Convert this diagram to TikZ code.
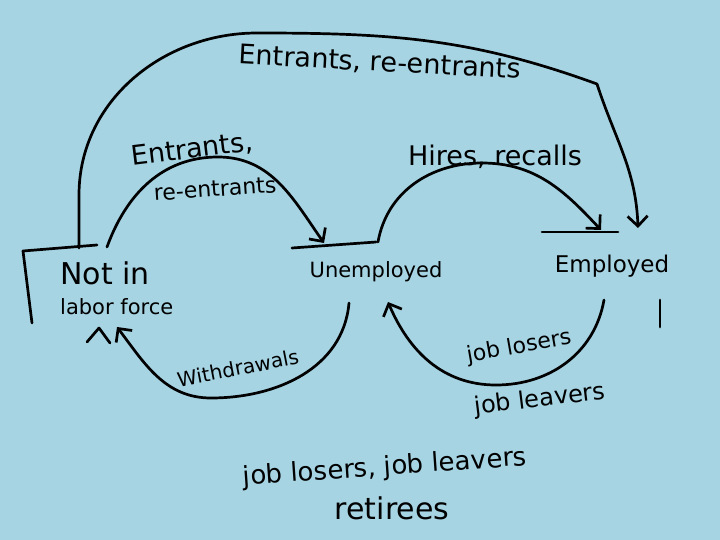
\documentclass[tikz,border=0pt]{standalone}
\usepackage{fontspec}
\setmainfont{DejaVu Sans}
\usetikzlibrary{arrows.meta}
\definecolor{board}{RGB}{166,212,227}
\newcommand{\sz}[1]{\fontsize{#1}{#1}\selectfont}

\begin{document}
\begin{tikzpicture}[x=1pt,y=1pt,
  pen/.style={line width=2.7pt, line cap=round, line join=round},
  flow/.style={pen, -{Straight Barb[length=10pt,width=20pt]}},
  lbl/.style={inner sep=0pt}]
\fill[board] (0,0) rectangle (720,-540);
\useasboundingbox (0,0) rectangle (720,-540);
% states
\node[lbl, anchor=north west, align=left, font=\fontsize{21}{30}\selectfont] (notin) at (60,-262) {{\sz{30}Not in}\\labor force};
\node[lbl, font=\sz{21}] (unemp) at (376,-272) {Unemployed};
\node[lbl, font=\sz{23}] (emp) at (612,-266) {Employed};
% ledges
\draw[pen] ([shift={(-28,-61)}]notin.north west) -- ([shift={(-37,11)}]notin.north west) -- ([shift={(37,17)}]notin.north west);
\draw[pen] ([shift={(-84,24)}]unemp.center) -- ([shift={(0,30)}]unemp.center);
\draw[pen] ([shift={(-70,34)}]emp.center) -- ([shift={(6,34)}]emp.center);
% flows
\draw[flow] ([shift={(19,14)}]notin.north west) -- (79,-195) to[out=90,in=180] (257,-33) to[out=0,in=160] (597,-84) to[out=-72,in=92] ([shift={(26,38)}]emp.center);
\draw[flow] ([shift={(47,15)}]notin.north west) to[out=70,in=180] (218,-157) to[out=0,in=125] ([shift={(-52,29)}]unemp.center);
\draw[flow] ([shift={(2,30)}]unemp.center) to[out=80,in=180] (482,-163) to[out=0,in=133] ([shift={(-11,36)}]emp.center);
\draw[flow] ([shift={(-27,-31)}]unemp.center) to[out=-95,in=0] (211,-398) to[out=180,in=-53] ([shift={(57,-65)}]notin.north west);
\draw[flow] ([shift={(-8,-34)}]emp.center) to[out=-100,in=0] (496,-385) to[out=180,in=-67] ([shift={(12,-30)}]unemp.center);
% unfinished flow, employed to not in labor force
\draw[pen] ([shift={(48,-34)}]emp.center) -- ([shift={(48,-61)}]emp.center);
\draw[pen] ([shift={(27,-80)}]notin.north west) -- ([shift={(39,-66)}]notin.north west) -- ([shift={(50,-81)}]notin.north west);
% labels
\node[lbl, font=\sz{27}, rotate=-3] (topl) at (380,-63) {Entrants, re-entrants};
\node[lbl, font=\sz{27}, rotate=7] (entl) at (192,-150) {Entrants,};
\node[lbl, font=\sz{22}, rotate=4] (reentl) at (215,-189) {re-entrants};
\node[lbl, font=\sz{27}] (hires) at (495,-157) {Hires, recalls};
\node[lbl, font=\sz{20}, rotate=11] (withdr) at (238,-368) {Withdrawals};
\node[lbl, font=\sz{22}, rotate=10] (losers) at (519,-347) {job losers};
\node[lbl, font=\sz{24}, rotate=7] (leavers) at (540,-400) {job leavers};
\node[lbl, font=\sz{26}, rotate=4] (jobs) at (385,-468) {job losers, job leavers};
\node[lbl, font=\sz{30}] (retir) at (392,-508) {retirees};
\end{tikzpicture}
\end{document}
